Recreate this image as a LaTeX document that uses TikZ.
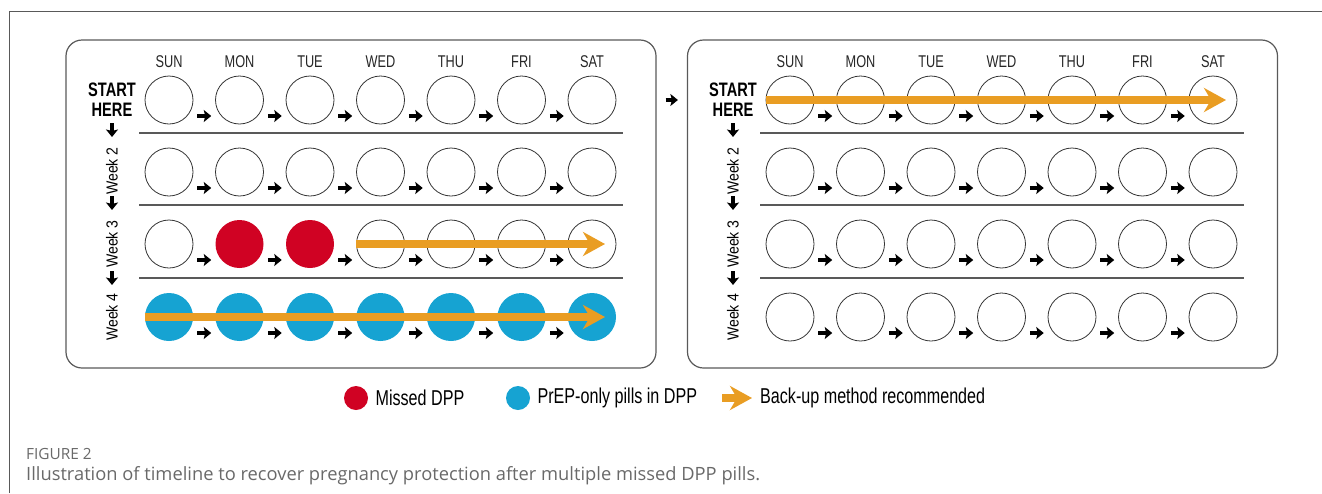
\documentclass[tikz,border=0pt]{standalone}
\usepackage{fontspec}
\setmainfont{Liberation Sans}
\newfontfamily\condfont[FakeStretch=0.75]{Liberation Sans}
\newfontfamily\weekfont[FakeStretch=0.88]{Liberation Sans}
\newfontfamily\capfont{Open Sans}
\usepackage{tikz}
\usetikzlibrary{arrows.meta,positioning,calc}
\usepackage{xcolor}
\definecolor{missred}{RGB}{208,2,35}
\definecolor{prepblue}{RGB}{22,163,210}
\definecolor{backorange}{RGB}{233,157,35}
\definecolor{capgray}{RGB}{105,105,105}

\begin{document}
\begin{tikzpicture}[
    x=1pt, y=-1pt,
    pill/.style={draw=black!80, circle, minimum size=48pt, inner sep=0pt, line width=0.8pt},
    missed/.style={pill, draw=none, fill=missred},
    prep/.style={pill, draw=none, fill=prepblue},
    panel/.style={draw=black!65, rounded corners=16pt, line width=1.2pt, minimum width=590pt, minimum height=328pt},
    sep/.style={draw=black!65, line width=1.2pt},
    dayarr/.style={line width=3.6pt, -{Stealth[length=7.5pt,width=12pt,inset=1.5pt]}},
    backup/.style={draw=backorange, line width=8pt, -{Stealth[length=22pt,width=24pt,inset=7pt]}},
    daylbl/.style={font=\condfont\fontsize{17}{18}\selectfont, text=black!85},
    startlbl/.style={font=\condfont\bfseries\fontsize{19.5}{20}\selectfont, align=center, inner sep=0pt},
    weeklbl/.style={font=\weekfont\fontsize{16}{18}\selectfont, rotate=90, inner sep=0pt},
    legtxt/.style={font=\condfont\fontsize{21.5}{24}\selectfont, inner sep=0pt},
    frame/.style={draw=black!65, line width=1pt}
]
\useasboundingbox (0,0) rectangle (1322,493);
% Outer frame
\draw[frame] (9,493) -- (9,11) -- (1322,11);
% Pill packs
\node[panel] (Lpanel) at (361,204) {};
\node[panel] (Rpanel) at (982.5,204) {};
\foreach \p/\dx in {L/0, R/621}{
  % day names
  \foreach \d [count=\c] in {SUN,MON,TUE,WED,THU,FRI,SAT}
    \node[daylbl] (\p d\c) at ({\dx+169+70.5*(\c-1)},62) {\d};
  % pills, one row per week
  \foreach \r/\y in {1/100, 2/172, 3/244, 4/317}{
    \foreach \c in {1,...,7}{
      \def\sty{pill}
      \ifnum\dx=0
        \ifnum\r=3 \ifnum\c>1 \ifnum\c<4 \def\sty{missed}\fi\fi\fi
        \ifnum\r=4 \def\sty{prep}\fi
      \fi
      \node[\sty] (\p\r-\c) at ({\dx+169+70.5*(\c-1)},\y) {};
    }
    \foreach \c [evaluate=\c as \n using int(\c+1)] in {1,...,6}
      \draw[dayarr] ($(\p\r-\c)!0.5!(\p\r-\n)+(-7,16)$) -- +(14,0);
  }
  % week separators
  \foreach \y in {133, 205, 278}
    \draw[sep] ({\dx+139},\y) -- ({\dx+623},\y);
  % left column
  \node[startlbl] (\p start) at ({\dx+112},99.7) {START\\HERE};
  \foreach \y in {123, 196, 271}
    \draw[dayarr] ({\dx+112},\y) -- +(0,14);
  \node[weeklbl] (\p w2) at ({\dx+112},171) {Week 2};
  \node[weeklbl] (\p w3) at ({\dx+112},244) {Week 3};
  \node[weeklbl] (\p w4) at ({\dx+112},317) {Week 4};
}
% Continue with the next pack
\draw[dayarr] ([xshift=9pt]Lpanel.east |- L1-7) -- ([xshift=-9pt]Rpanel.west |- R1-1);
% Back-up method
\draw[backup] (L3-4.west) -- ([xshift=13pt]L3-7.center);
\draw[backup] (L4-1.west) -- ([xshift=13pt]L4-7.center);
\draw[backup] (R1-1.west) -- ([xshift=13pt]R1-7.center);
% Legend
\node[missed, minimum size=24pt] (lgmiss) at (356,398) {};
\node[legtxt, right=7pt of lgmiss] (lgmisst) {Missed DPP};
\node[prep, minimum size=24pt] (lgprep) at (518,398) {};
\node[legtxt, right=7pt of lgprep] (lgprept) {PrEP-only pills in DPP};
\coordinate (lgback) at (722,398);
\draw[backup] (lgback) -- +(30,0);
\node[legtxt, anchor=west] (lgbackt) at (760,398) {Back-up method recommended};
% Caption
\node[anchor=base west, inner sep=0pt, font=\capfont\fontsize{15.4}{17}\selectfont, text=capgray] (figno) at (26,459) {FIGURE 2};
\node[anchor=base west, inner sep=0pt, font=\capfont\fontsize{18.3}{20}\selectfont, text=capgray] (figcap) at (26,480) {Illustration of timeline to recover pregnancy protection after multiple missed DPP pills.};
\end{tikzpicture}
\end{document}
